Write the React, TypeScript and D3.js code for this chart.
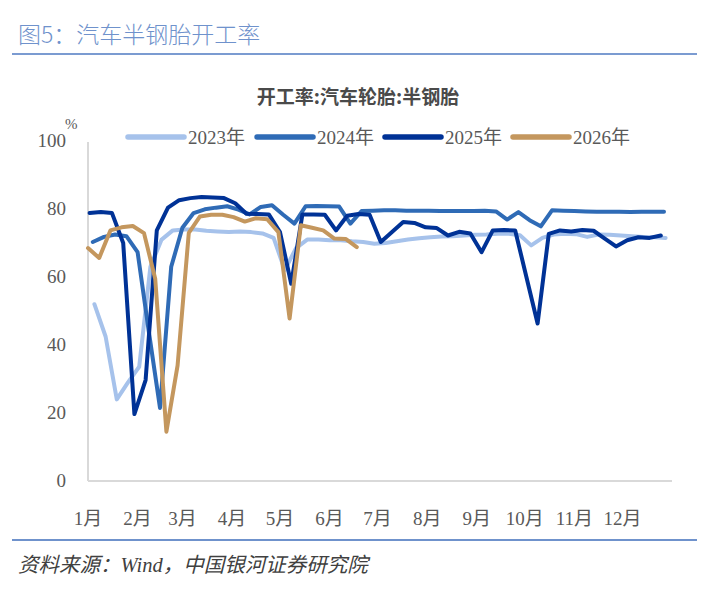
import * as d3 from "d3";

// ── Data ──────────────────────────────────────────────────────────────────────
// weekly readings; each year starts on its own day-of-year
const monthLabels = ["1月", "2月", "3月", "4月", "5月", "6月", "7月", "8月", "9月", "10月", "11月", "12月"];
const monthStartDays = [0, 31, 59, 90, 120, 151, 181, 212, 243, 273, 304, 334];
const yTicks = [0, 20, 40, 60, 80, 100];

const seriesNames = ["2023年", "2024年", "2025年", "2026年"];
const seriesStartDays = [4, 3, 1, 0];

const values2023 = [
  52, 42.5, 24, 29, 33.6, 63, 71, 73.7, 74, 74, 73.6, 73.4, 73.2, 73.4, 73.2, 72.8,
  71.5, 62, 68.5, 71, 71, 70.8, 70.8, 70.5, 70.3, 69.8, 70, 70.5, 71, 71.4, 71.7, 71.9,
  72, 72.2, 72.4, 72.5, 72.7, 72.7, 72.3, 69.3, 71.5, 72.5, 72.7, 72.6, 71.8, 72.5,
  72.4, 72.2, 72, 71.8, 71.7, 71.5,
];
const values2024 = [
  70.3, 71.8, 72.5, 72, 67.3, 44, 21.5, 63, 74.5, 78.8, 79.9, 80.4, 80.8, 79.8, 78.4,
  80.6, 81.1, 78.3, 75.7, 80.8, 80.9, 80.8, 80.7, 75.7, 79.4, 79.5, 79.6, 79.6, 79.5,
  79.5, 79.5, 79.4, 79.4, 79.4, 79.4, 79.5, 79.3, 76.9, 79.1, 76.7, 74.9, 79.6, 79.5,
  79.4, 79.3, 79.2, 79.2, 79.2, 79.1, 79.2, 79.2, 79.2,
];
const values2025 = [
  78.8, 79.1, 78.8, 70, 19.7, 29.7, 73.7, 80.4, 82.6, 83.2, 83.5, 83.4, 83.2, 81.7,
  78.6, 78.5, 78.4, 73.2, 58, 78.4, 78.4, 78.3, 73.7, 78, 78.5, 78.3, 70.3, 73.2, 76.2,
  75.9, 74.6, 74.4, 72.2, 73.3, 72.8, 67.3, 73.7, 73.8, 73.7, 60, 46.3, 72.7, 73.7,
  73.4, 73.8, 73.6, 71.3, 69, 70.8, 71.7, 71.5, 72.2,
];
const values2026 = [
  68.5, 65.6, 73.7, 74.6, 75, 72.9, 59.5, 14.5, 34, 73, 77.8, 78.3, 78.3, 77.6, 76.3,
  77.3, 77, 73.2, 47.8, 75.2, 74.5, 73.7, 71.3, 71.2, 68.8,
];
const seriesValues = [values2023, values2024, values2025, values2026];
const seriesColors = ["#a6c2eb", "#2f6bb6", "#003296", "#c4975e"];

// ── Layout ────────────────────────────────────────────────────────────────────
const W = 719;
const H = 603;
const plot = { left: 88, right: 672, top: 141, bottom: 481 };
const numFont = "'Liberation Serif', 'Noto Sans CJK SC', serif";
const cjkFont = "'Noto Sans CJK SC', sans-serif";

export default function App() {
  const x = d3.scaleLinear().domain([0, 365]).range([plot.left, plot.right]);
  const y = d3.scaleLinear().domain([0, 100]).range([plot.bottom, plot.top]);

  const line = d3
    .line<[number, number]>()
    .x((d) => x(d[0]))
    .y((d) => y(d[1]));

  const legendX = [128, 257, 385, 513];

  return (
    <svg
      width={W}
      height={H}
      viewBox={`0 0 ${W} ${H}`}
      style={{ position: "absolute", left: 0, top: 0, background: "#fff" }}
    >
      {/* Header */}
      <text x={18} y={43} fontFamily={cjkFont} fontSize={23} fill="#6f92cc" fontWeight={300}>
        图5：汽车半钢胎开工率
      </text>
      <line x1={12} x2={697} y1={54} y2={54} stroke="#7b9bd1" strokeWidth={2} />
      <text
        x={358}
        y={104}
        textAnchor="middle"
        fontFamily={cjkFont}
        fontSize={19}
        fontWeight={700}
        fill="#4a4a4a"
      >
        开工率:汽车轮胎:半钢胎
      </text>

      {/* Legend */}
      {seriesNames.map((name, i) => (
        <g key={name}>
          <line
            x1={legendX[i]}
            x2={legendX[i] + 56}
            y1={137}
            y2={137}
            stroke={seriesColors[i]}
            strokeWidth={5.5}
            strokeLinecap="round"
          />
          <text x={legendX[i] + 60} y={144} fontFamily={numFont} fontSize={19} fill="#595959">
            {name}
          </text>
        </g>
      ))}

      {/* Axes */}
      <line x1={plot.left} x2={plot.left} y1={plot.top + 1} y2={plot.bottom} stroke="#d9d9d9" strokeWidth={2} />
      <line x1={plot.left} x2={plot.right} y1={plot.bottom} y2={plot.bottom} stroke="#d9d9d9" strokeWidth={2} />
      {yTicks.map((t) => (
        <text
          key={t}
          x={66}
          y={y(t) + 6}
          textAnchor="end"
          fontFamily={numFont}
          fontSize={19}
          fill="#595959"
        >
          {t}
        </text>
      ))}
      <text x={65} y={129} fontFamily={numFont} fontSize={15} fill="#595959">
        %
      </text>
      {monthLabels.map((m, i) => (
        <text
          key={m}
          x={x(monthStartDays[i])}
          y={525}
          textAnchor="middle"
          fontFamily={numFont}
          fontSize={19}
          fill="#595959"
        >
          {m}
        </text>
      ))}

      {/* Series */}
      {seriesValues.map((vals, i) => (
        <path
          key={seriesNames[i]}
          d={line(vals.map((v, k) => [seriesStartDays[i] + k * 7, v] as [number, number])) ?? ""}
          fill="none"
          stroke={seriesColors[i]}
          strokeWidth={4}
          strokeLinejoin="round"
          strokeLinecap="round"
        />
      ))}

      {/* Footer */}
      <line x1={12} x2={697} y1={540} y2={540} stroke="#6f92cc" strokeWidth={2} />
      <text x={18} y={572} fontFamily={cjkFont} fontSize={20.5} fontStyle="italic" fill="#404040">
        资料来源：
        <tspan fontFamily={numFont}>Wind</tspan>，中国银河证券研究院
      </text>
    </svg>
  );
}
